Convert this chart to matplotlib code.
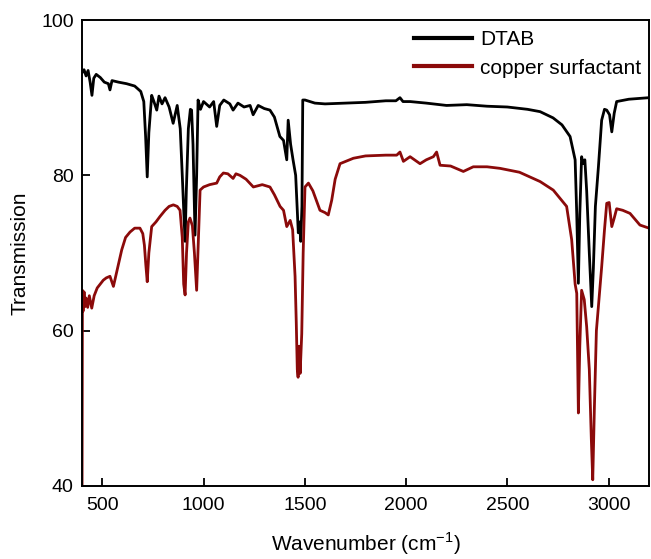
#!/usr/bin/env python3
"""FTIR spectra: DTAB vs copper surfactant."""

import matplotlib
matplotlib.use("Agg")

import matplotlib.pyplot as plt

plt.rcParams["font.family"] = ["Liberation Sans", "DejaVu Sans"]

# ── Data ───────────────────────────────────────────────────────────────

dtab_x = [400, 410, 420, 430, 440, 449, 458, 470, 490, 510,
          530, 538, 548, 580, 620, 660, 690, 705, 714, 722,
          730, 744, 755, 769, 780, 795, 810, 830, 850, 870,
          885, 895, 903, 909, 915, 925, 935, 941, 948, 958,
          966, 973, 985, 1000, 1030, 1050, 1065, 1080, 1100, 1130,
          1146, 1170, 1200, 1230, 1245, 1270, 1300, 1328, 1350, 1377,
          1395, 1411, 1418, 1430, 1442, 1455, 1468, 1474, 1480, 1486,
          1490, 1501, 1550, 1600, 1700, 1800, 1900, 1950, 1970, 1985,
          2020, 2100, 2200, 2300, 2400, 2500, 2600, 2662, 2726, 2770,
          2810, 2835, 2843, 2851, 2858, 2867, 2875, 2883, 2892, 2905,
          2917, 2925, 2935, 2950, 2966, 2980, 2991, 3005, 3016, 3028,
          3040, 3100, 3200]
dtab_y = [93.2, 93.6, 92.8, 93.5, 92.0, 90.3, 92.5, 93.0, 92.6, 92.0,
          91.8, 91.0, 92.2, 92.0, 91.8, 91.5, 90.8, 89.5, 85.0, 79.8,
          85.5, 90.3, 89.5, 88.4, 90.2, 89.2, 90.0, 88.8, 86.7, 89.0,
          86.0, 80.0, 75.0, 71.5, 78.0, 86.0, 88.5, 88.4, 84.0, 72.3,
          80.0, 89.7, 88.5, 89.5, 88.8, 89.5, 86.3, 89.0, 89.7, 89.2,
          88.4, 89.3, 88.8, 89.0, 87.8, 89.0, 88.6, 88.4, 87.5, 85.0,
          84.5, 82.0, 87.1, 84.0, 82.0, 80.0, 72.6, 74.0, 71.5, 76.0,
          89.7, 89.7, 89.3, 89.2, 89.3, 89.4, 89.6, 89.6, 90.0, 89.5,
          89.5, 89.3, 89.0, 89.1, 88.9, 88.8, 88.5, 88.2, 87.4, 86.5,
          85.0, 82.0, 75.0, 66.1, 75.0, 82.4, 81.5, 82.0, 78.0, 70.0,
          63.1, 68.0, 76.0, 81.1, 87.1, 88.5, 88.4, 87.8, 85.6, 88.0,
          89.5, 89.8, 90.0]

cu_x = [400, 402, 405, 410, 415, 420, 428, 436, 448, 460,
        475, 490, 505, 520, 538, 555, 575, 596, 615, 637,
        660, 686, 700, 708, 715, 722, 730, 744, 765, 785,
        810, 830, 851, 870, 884, 895, 902, 909, 916, 925,
        933, 945, 955, 966, 975, 983, 1000, 1030, 1065, 1080,
        1098, 1120, 1146, 1160, 1180, 1210, 1246, 1290, 1328, 1350,
        1378, 1395, 1411, 1428, 1440, 1452, 1458, 1463, 1467, 1472,
        1477, 1485, 1492, 1501, 1518, 1540, 1575, 1600, 1616, 1633,
        1650, 1674, 1740, 1800, 1900, 1954, 1970, 1987, 2020, 2069,
        2100, 2135, 2151, 2168, 2220, 2283, 2332, 2400, 2464, 2560,
        2662, 2727, 2793, 2818, 2835, 2843, 2851, 2858, 2867, 2880,
        2892, 2905, 2915, 2922, 2930, 2940, 2950, 2966, 2980, 2991,
        3003, 3016, 3028, 3040, 3070, 3106, 3155, 3200]
cu_y = [38.0, 65.2, 62.5, 65.0, 63.1, 64.2, 63.0, 64.5, 62.9, 64.5,
        65.5, 66.0, 66.5, 66.8, 67.0, 65.7, 68.0, 70.4, 72.0, 72.7,
        73.2, 73.2, 72.5, 71.0, 68.5, 66.3, 70.0, 73.4, 74.0, 74.7,
        75.5, 76.0, 76.2, 76.0, 75.5, 72.0, 66.0, 64.6, 70.0, 74.0,
        74.5, 73.5, 70.0, 65.2, 72.0, 78.1, 78.5, 78.8, 79.0, 79.8,
        80.3, 80.2, 79.6, 80.2, 80.0, 79.5, 78.5, 78.8, 78.5, 77.5,
        76.0, 75.5, 73.4, 74.2, 73.0, 67.0, 61.0, 55.0, 54.0, 58.0,
        54.5, 59.6, 70.0, 78.5, 79.0, 78.0, 75.5, 75.2, 74.9, 76.8,
        79.5, 81.5, 82.2, 82.5, 82.6, 82.6, 83.0, 81.8, 82.4, 81.5,
        82.0, 82.4, 83.0, 81.3, 81.2, 80.5, 81.1, 81.1, 80.9, 80.4,
        79.2, 78.1, 76.0, 71.7, 66.0, 64.8, 49.4, 58.0, 65.2, 64.0,
        60.5, 55.0, 46.0, 40.8, 50.0, 60.0, 63.1, 68.2, 73.0, 76.4,
        76.5, 73.4, 74.5, 75.7, 75.5, 75.1, 73.6, 73.2]

x_ticks = [500, 1000, 1500, 2000, 2500, 3000]
y_ticks = [40, 60, 80, 100]

# ── Plot ───────────────────────────────────────────────────────────────

fig = plt.figure(figsize=(6.51, 5.59), dpi=100)
ax = fig.add_axes([0.126, 0.1306, 0.871, 0.8336])

ax.plot(dtab_x, dtab_y, color="black", lw=2.0, label="DTAB")
ax.plot(cu_x, cu_y, color="#8b0a0a", lw=2.0, label="copper surfactant")

ax.set_xlim(400, 3200)
ax.set_ylim(40, 100)
ax.set_xticks(x_ticks)
ax.set_yticks(y_ticks)
ax.tick_params(direction="in", length=6, width=1.3, labelsize=14, top=False, right=False)
ax.tick_params(axis="x", pad=8)
ax.tick_params(axis="y", pad=6)
for lbl in ax.get_xticklabels() + ax.get_yticklabels():
    lbl.set_family(["Liberation Sans Narrow", "Liberation Sans"])
for s in ax.spines.values():
    s.set_linewidth(1.4)

ax.set_xlabel("Wavenumber (cm$^{\\mathregular{-1}}$)", fontsize=15, labelpad=12)
ax.set_ylabel("Transmission", fontsize=15, labelpad=8)

leg = ax.legend(loc="upper left", bbox_to_anchor=(0.585, 0.978), frameon=False,
                fontsize=15, handlelength=2.8, handletextpad=0.4,
                borderaxespad=0, borderpad=0, labelspacing=0.45)
for line in leg.get_lines():
    line.set_linewidth(3.0)

fig.savefig("out.png", dpi=100)
